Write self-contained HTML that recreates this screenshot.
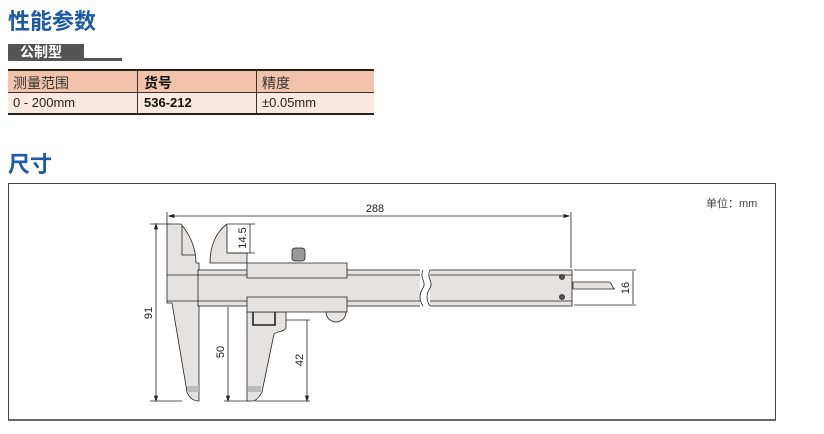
<!DOCTYPE html>
<html><head><meta charset="utf-8"><style>
body{margin:0;width:824px;height:434px;background:#fff;position:relative;font-family:"Liberation Sans","Noto Sans CJK SC",sans-serif;overflow:hidden}
.t{position:absolute;color:#1a5aa8;font-weight:bold;font-size:22px;left:8px}
</style></head><body>
<div class="t" style="top:4px">性能参数</div>
<div style="position:absolute;left:8px;top:44px;width:76px;height:17px;background:#555;color:#fff;font-size:14px;font-weight:bold;line-height:17px;text-indent:12px">公制型</div>
<div style="position:absolute;left:84px;top:58px;width:38px;height:3px;background:#555"></div>
<div style="position:absolute;left:8px;top:69px;width:366px;height:2px;background:#222"></div>
<div style="position:absolute;left:8px;top:71px;width:366px;height:21px;background:#f0c3aa"></div>
<div style="position:absolute;left:8px;top:92px;width:366px;height:1px;background:#333"></div>
<div style="position:absolute;left:8px;top:93px;width:366px;height:20px;background:#fbe8de"></div>
<div style="position:absolute;left:8px;top:113px;width:366px;height:2px;background:#222"></div>
<div style="position:absolute;left:137px;top:71px;width:1px;height:42px;background:#333"></div>
<div style="position:absolute;left:256px;top:71px;width:1px;height:42px;background:#333"></div>
<div style="position:absolute;left:13px;top:73px;font-size:14px;color:#333">测量范围</div>
<div style="position:absolute;left:144px;top:73px;font-size:14px;font-weight:bold;color:#111">货号</div>
<div style="position:absolute;left:262px;top:73px;font-size:14px;color:#333">精度</div>
<div style="position:absolute;left:13px;top:95px;font-size:13px;color:#222">0 - 200mm</div>
<div style="position:absolute;left:144px;top:95px;font-size:13px;font-weight:bold;color:#111">536-212</div>
<div style="position:absolute;left:262px;top:95px;font-size:13px;color:#222">±0.05mm</div>
<div class="t" style="top:147px">尺寸</div>
<div style="position:absolute;left:8px;top:183px;width:766px;height:235px;border:1px solid #444;border-bottom:2px solid #666"></div>
<svg style="position:absolute;left:0;top:0" width="824" height="434" viewBox="0 0 824 434" font-family="Liberation Sans,sans-serif" font-size="11" fill="none" stroke="#222" stroke-width="0.8">
<!-- 288 -->
<line x1="167" y1="212" x2="167" y2="224"/><line x1="571" y1="212" x2="571" y2="268"/>
<line x1="169" y1="216" x2="569" y2="216"/>
<path d="M169 216l5-1.5v3z M569 216l-5-1.5v3z" fill="#222"/>
<text x="375" y="212" fill="#222" stroke="none" text-anchor="middle">288</text>
<!-- fixed jaw -->
<path d="M167 224H181C190 235 196 248 196 263H199V401C193 401 189 397 187 392L172 303H167Z" fill="#e6e2e0"/>
<path d="M182 226V255H195"/>
<rect x="187" y="386" width="12" height="6" fill="#bbb" stroke="none"/>
<!-- beam -->
<rect x="198" y="270" width="374" height="36" fill="#e6e2e0"/>
<line x1="167" y1="275" x2="572" y2="275"/><line x1="167" y1="301" x2="572" y2="301"/>
<rect x="420" y="268" width="10" height="40" fill="#fff" stroke="none"/>
<path d="M423 270c-4 8 4 12 0 18s-4 12 0 18 M430 270c-4 8 4 12 0 18s-4 12 0 18"/>
<circle cx="562" cy="277" r="2.5" fill="#555"/><circle cx="562" cy="297" r="2.5" fill="#555"/>
<!-- depth rod -->
<path d="M573 282h36c3 0 3 7 6 7h-42z" fill="#e6e2e0"/>
<!-- moving upper jaw -->
<path d="M227 224C216 232 210 246 210 263H247V253H227Z" fill="#e6e2e0"/>
<!-- moving lower jaw -->
<path d="M247 312H286V328C284 332 277 331 274 334L262 392C259 398 256 401 252 401H247Z" fill="#e6e2e0"/>
<rect x="248" y="386" width="13" height="6" fill="#bbb" stroke="none"/>
<path d="M253 312V325H275V312" stroke-width="1.6"/>
<!-- slider -->
<path d="M247 297h100v15h-100z" fill="#e6e2e0"/>
<path d="M247 263h100v15h-100z" fill="#e6e2e0"/>
<path d="M326 312a10 10 0 0 0 20 0z" fill="#e6e2e0"/>
<rect x="292" y="248" width="13" height="13" rx="3" fill="#999"/>
<!-- dims -->
<line x1="156" y1="225" x2="156" y2="399"/><line x1="150" y1="224" x2="170" y2="224"/><line x1="150" y1="401" x2="182" y2="401"/>
<path d="M156 224l-1.5 5h3zM156 401l-1.5-5h3z" fill="#222"/>
<text transform="translate(152,313) rotate(-90)" fill="#222" stroke="none" text-anchor="middle">91</text>
<line x1="250" y1="224" x2="250" y2="253"/><line x1="228" y1="224" x2="255" y2="224"/><line x1="228" y1="253" x2="255" y2="253"/>
<text transform="translate(246,238) rotate(-90)" fill="#222" stroke="none" text-anchor="middle">14.5</text>
<line x1="228" y1="307" x2="228" y2="400"/><line x1="224" y1="401" x2="247" y2="401"/>
<path d="M228 401l-1.5-5h3z" fill="#222"/>
<text transform="translate(224,352) rotate(-90)" fill="#222" stroke="none" text-anchor="middle">50</text>
<line x1="307" y1="320" x2="307" y2="400"/><line x1="286" y1="320" x2="310" y2="320"/><line x1="255" y1="401" x2="310" y2="401"/>
<path d="M307 401l-1.5-5h3z" fill="#222"/>
<text transform="translate(303,360) rotate(-90)" fill="#222" stroke="none" text-anchor="middle">42</text>
<line x1="574" y1="270" x2="636" y2="270"/><line x1="574" y1="305" x2="636" y2="305"/><line x1="633" y1="271" x2="633" y2="304"/>
<text transform="translate(629,288) rotate(-90)" fill="#222" stroke="none" text-anchor="middle">16</text>
<text x="706" y="207" fill="#444" stroke="none" font-family="Liberation Sans,Noto Sans CJK SC,sans-serif" font-size="11">单位：mm</text>
</svg>
</body></html>
